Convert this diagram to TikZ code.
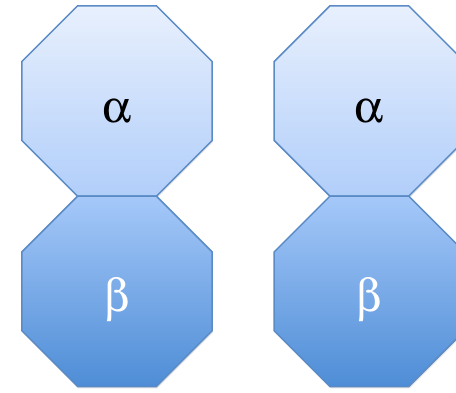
\documentclass[tikz,border=0pt]{standalone}
\usepackage[Symbol]{upgreek}
\usepackage{xcolor}
\usepackage{tikz}
\usetikzlibrary{shapes.geometric, shadows, positioning}
\definecolor{edgeblue}{HTML}{5B8BC5}
\definecolor{paletop}{HTML}{E8F0FD}
\definecolor{palebot}{HTML}{B1CEFA}
\definecolor{deeptop}{HTML}{A5C8F9}
\definecolor{deepbot}{HTML}{4E8DD6}
\tikzstyle{octa} = [
    regular polygon,
    regular polygon sides=8,
    minimum size=206pt,
    inner sep=0pt,
    outer sep=0pt,
    draw=edgeblue,
    line width=1.5pt,
    drop shadow={shadow xshift=0.8pt, shadow yshift=-1.8pt, opacity=0.22}
]
\tikzstyle{upper} = [
    octa,
    top color=paletop,
    bottom color=palebot
]
\tikzstyle{lower} = [
    octa,
    top color=deeptop,
    bottom color=deepbot
]
\tikzstyle{greek} = [
    font=\fontsize{46}{50}\selectfont
]

\begin{document}
\begin{tikzpicture}[
    x=1pt,
    y=1pt,
    node distance=62pt
]

\useasboundingbox (0,0) rectangle (456,392);

\node (alphaL) [upper] at (117,291)
{};

\node (betaL) [lower, below=0pt of alphaL]
{};

\node (alphaR) [upper, right=of alphaL]
{};

\node (betaR) [lower, below=0pt of alphaR]
{};

\node (alphaLtxt) [greek, yshift=-10pt] at (alphaL.center)
{$\upalpha$};

\node (betaLtxt) [greek, white, yshift=-8.5pt] at (betaL.center)
{$\upbeta$};

\node (alphaRtxt) [greek, yshift=-10pt] at (alphaR.center)
{$\upalpha$};

\node (betaRtxt) [greek, white, yshift=-8.5pt] at (betaR.center)
{$\upbeta$};

\end{tikzpicture}
\end{document}
